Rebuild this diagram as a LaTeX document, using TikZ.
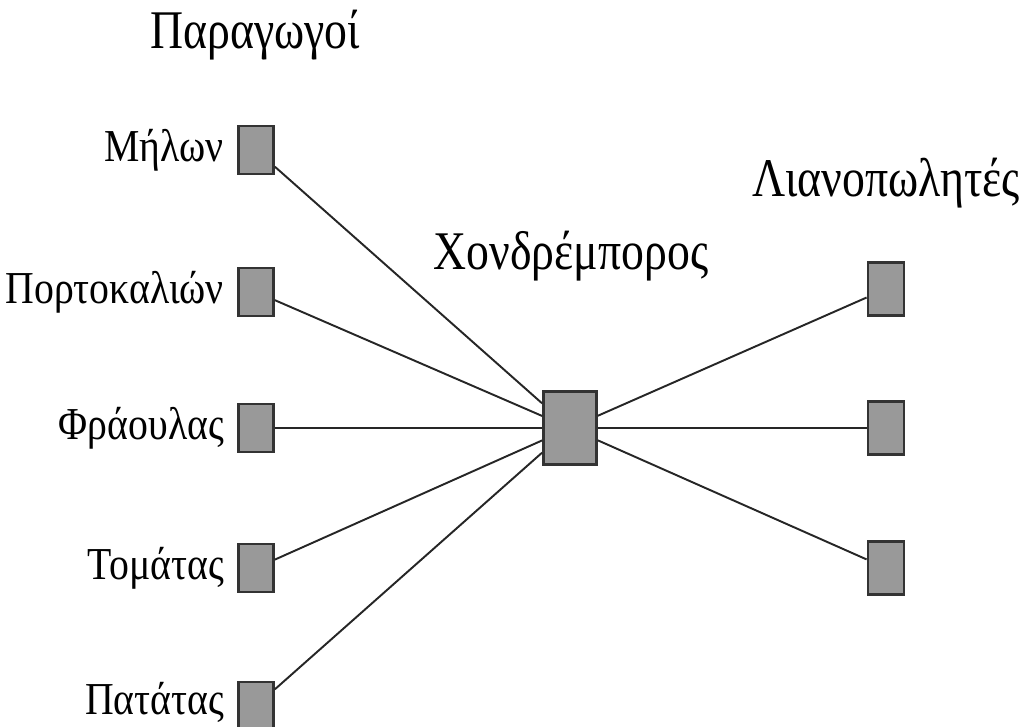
\documentclass[tikz,border=0pt]{standalone}
\usepackage{fontspec}
\setmainfont[FakeStretch=0.87]{Liberation Serif}
\newfontfamily\titlefont[FakeStretch=0.84]{Liberation Serif}
\usepackage{tikz}
\usetikzlibrary{positioning}
\definecolor{boxgray}{RGB}{153,153,153}
\definecolor{edgegray}{RGB}{51,51,51}

\begin{document}
\begin{tikzpicture}[x=0.02cm, y=-0.02cm,
    every node/.style={font=\fontsize{26}{28}\selectfont},
    box/.style={draw=edgegray, fill=boxgray, line width=1.6pt,
                minimum width=0.7cm, minimum height=0.96cm, inner sep=0pt},
    hubbox/.style={box, minimum width=1.06cm, minimum height=1.46cm},
    shopbox/.style={box, minimum width=0.72cm, minimum height=1.06cm},
    title/.style={font=\titlefont\fontsize{31}{33}\selectfont},
    link/.style={line width=1.1pt, black!85}]
  \useasboundingbox (0,0) rectangle (1019,727);

  % Producers (left column)
  \node[title] (prodtitle) at (255,35) {Παραγωγοί};
  \node[box] (apples)   at (256,150) {};
  \node[box] (oranges)  at (256,292) {};
  \node[box] (straw)    at (256,428) {};
  \node[box] (tomatoes) at (256,568) {};
  \node[box] (potatoes) at (256,706) {};
  \node[left=0.14cm of apples]   {Μήλων};
  \node[left=0.14cm of oranges]  {Πορτοκαλιών};
  \node[left=0.14cm of straw]    {Φράουλας};
  \node[left=0.14cm of tomatoes] {Τομάτας};
  \node[left=0.14cm of potatoes, yshift=2pt] {Πατάτας};

  % Wholesaler (middle)
  \node[hubbox] (hub) at (570,428) {};
  \node[title] (hubtitle) at (571,256) {Χονδρέμπορος};

  % Retailers (right column)
  \node[title] (shoptitle) at (886,183) {Λιανοπωλητές};
  \node[shopbox] (shop1) at (886,289) {};
  \node[shopbox] (shop2) at (886,428) {};
  \node[shopbox] (shop3) at (886,568) {};

  % Connections
  \foreach \p in {apples, oranges, straw, tomatoes, potatoes}
    \draw[link] (\p) -- (hub);
  \foreach \s in {shop1, shop2, shop3}
    \draw[link] (hub) -- (\s);
\end{tikzpicture}
\end{document}
